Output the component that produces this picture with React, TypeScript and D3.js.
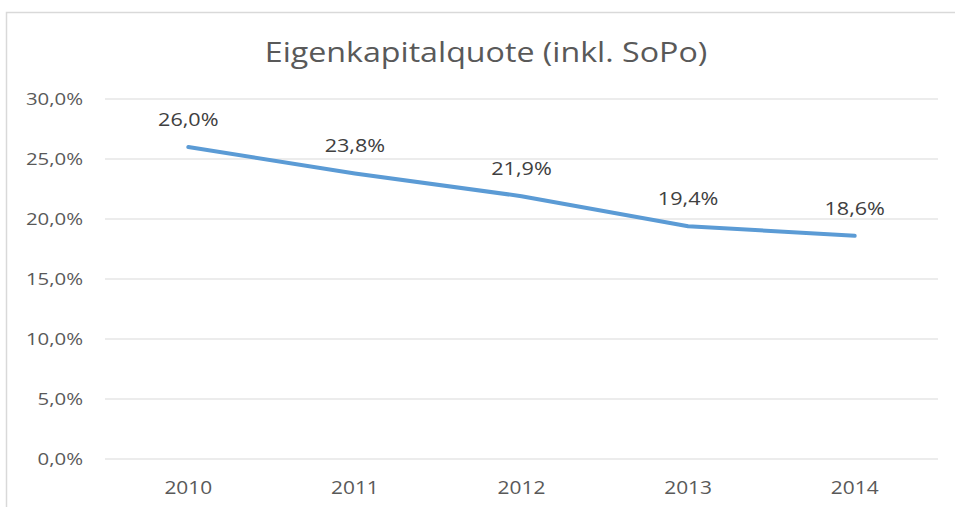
import React from "react";
import * as d3 from "d3";

const years = ["2010", "2011", "2012", "2013", "2014"];
const values = [26.0, 23.8, 21.9, 19.4, 18.6];
const yTicks = [0, 5, 10, 15, 20, 25, 30];
const title = "Eigenkapitalquote (inkl. SoPo)";

const W = 955;
const H = 507;
const FONT = "'Open Sans', 'Noto Sans', sans-serif";
const TEXT = "#595959";

type TProps = {
  x: number;
  y: number;
  sx: number;
  anchor: "start" | "middle" | "end";
  size: number;
  fill: string;
  children: React.ReactNode;
};

function SText({ x, y, sx, anchor, size, fill, children }: TProps) {
  return (
    <g transform={`translate(${x},${y}) scale(${sx},1)`}>
      <text
        x={0}
        y={0}
        textAnchor={anchor}
        fontFamily={FONT}
        fontSize={size}
        fill={fill}
      >
        {children}
      </text>
    </g>
  );
}

export default function App() {
  const x = d3.scaleBand<string>().domain(years).range([105, 938]);
  const y = d3.scaleLinear().domain([0, 30]).range([459, 99]);
  const fmt = (v: number) => v.toFixed(1).replace(".", ",") + "%";
  const cx = (yr: string) => (x(yr) as number) + x.bandwidth() / 2;
  const line = d3
    .line<number>()
    .x((_, i) => cx(years[i]))
    .y((d) => y(d));

  return (
    <svg
      width={W}
      height={H}
      style={{ position: "absolute", left: 0, top: 0, background: "#fff" }}
    >
      <rect x={0} y={0} width={W} height={H} fill="#fff" />
      <rect
        x={6.5}
        y={12.5}
        width={W + 20}
        height={H + 20}
        fill="none"
        stroke="#d9d9d9"
        strokeWidth={1.5}
      />
      <SText x={486} y={62} sx={1.15} anchor="middle" size={28} fill={TEXT}>
        {title}
      </SText>
      {yTicks.map((t) => (
        <g key={t}>
          <line
            x1={105}
            x2={938}
            y1={y(t)}
            y2={y(t)}
            stroke="#d9d9d9"
            strokeWidth={1.2}
          />
          <SText x={83} y={y(t) + 6} sx={1.2} anchor="end" size={17} fill={TEXT}>
            {fmt(t)}
          </SText>
        </g>
      ))}
      {years.map((yr) => (
        <SText key={yr} x={cx(yr)} y={494} sx={1.1} anchor="middle" size={19} fill={TEXT}>
          {yr}
        </SText>
      ))}
      <path
        d={line(values) || ""}
        fill="none"
        stroke="#5b9bd5"
        strokeWidth={4}
        strokeLinecap="round"
        strokeLinejoin="round"
      />
      {values.map((v, i) => (
        <SText
          key={i}
          x={cx(years[i])}
          y={y(v) - 21}
          sx={1.2}
          anchor="middle"
          size={18}
          fill="#404040"
        >
          {fmt(v)}
        </SText>
      ))}
    </svg>
  );
}
